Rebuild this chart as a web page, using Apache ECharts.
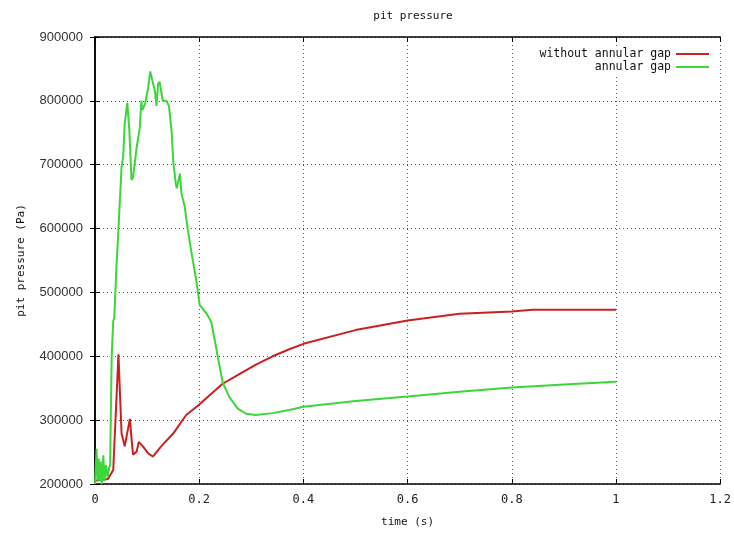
<!DOCTYPE html>
<html>
<head>
<meta charset="utf-8">
<script src="https://cdn.jsdelivr.net/npm/echarts@6/dist/echarts.min.js"></script>
<style>html,body{margin:0;padding:0;background:#fff;}#c{width:734px;height:533px;}</style>
</head>
<body>
<div id="c"></div>
<script>
var xTicks = [0, 0.2, 0.4, 0.6, 0.8, 1, 1.2];
var yTicks = [200000, 300000, 400000, 500000, 600000, 700000, 800000, 900000];

var noGapT = [0, 0.025, 0.03, 0.035, 0.038, 0.045, 0.048, 0.051, 0.057, 0.06, 0.067, 0.07, 0.073, 0.08, 0.084, 0.092, 0.102, 0.111, 0.127, 0.15, 0.175, 0.198, 0.22, 0.245, 0.277, 0.309, 0.341, 0.373, 0.4, 0.5, 0.6, 0.7, 0.8, 0.84, 1.0];
var noGapP = [205000, 208000, 215000, 222000, 225000, 403000, 340000, 279000, 259000, 260000, 302000, 272000, 246000, 251000, 266000, 259000, 248000, 243000, 259000, 279000, 308000, 323000, 339000, 357000, 372000, 387000, 400000, 411000, 419500, 441000, 456000, 466600, 470000, 473000, 473000];

var gapT = [0, 0.003, 0.005, 0.007, 0.009, 0.011, 0.013, 0.016, 0.018, 0.021, 0.024, 0.027, 0.029, 0.032, 0.035, 0.037, 0.041, 0.045, 0.051, 0.054, 0.057, 0.062, 0.066, 0.070, 0.073, 0.080, 0.086, 0.089, 0.091, 0.096, 0.102, 0.106, 0.108, 0.115, 0.118, 0.121, 0.124, 0.128, 0.13, 0.137, 0.142, 0.147, 0.15, 0.155, 0.157, 0.163, 0.166, 0.172, 0.178, 0.185, 0.194, 0.201, 0.214, 0.223, 0.229, 0.236, 0.245, 0.258, 0.274, 0.29, 0.309, 0.341, 0.373, 0.4, 0.5, 0.6, 0.7, 0.8, 0.9, 1.0];
var gapP = [200000, 255000, 205000, 240000, 205000, 235000, 200000, 245000, 205000, 230000, 210000, 225000, 230000, 400000, 455000, 460000, 537000, 599000, 697000, 712000, 764000, 797000, 753000, 676000, 680000, 727000, 758000, 800000, 786000, 795000, 820000, 846000, 843000, 815000, 792000, 826000, 830000, 810000, 800000, 800000, 792000, 753000, 707000, 671000, 663000, 686000, 655000, 635000, 599000, 563000, 521000, 480000, 467000, 454000, 429000, 398000, 359000, 336000, 318000, 310000, 308000, 311000, 316000, 321000, 330000, 337000, 344600, 351300, 356000, 360000];

function pairs(a, b) { return a.map(function (v, i) { return [v, b[i]]; }); }

var mono = 'DejaVu Sans Mono';
var chart = echarts.init(document.getElementById('c'));
var frame = { show: true, lineStyle: { color: '#000', width: 1.5 } };
var ticksIn = { show: true, inside: true, length: 5, lineStyle: { color: '#000', width: 1 } };
var grid = { show: true, lineStyle: { color: '#555', width: 1, type: [1, 3] } };
var legendText = { fontFamily: mono, fontSize: 11.5, color: '#111' };

chart.setOption({
  animation: false,
  backgroundColor: '#fff',
  title: {
    text: 'pit pressure', left: 408, top: 6, textAlign: 'center',
    textStyle: { fontFamily: mono, fontSize: 11, fontWeight: 'normal', color: '#111' }
  },
  legend: [
    {
      data: ['without annular gap'], right: 23, top: 46, align: 'right', icon: 'rect',
      itemWidth: 33, itemHeight: 2, padding: [2, 2, 2, 4], backgroundColor: '#fff',
      textStyle: legendText
    },
    {
      data: ['annular gap'], right: 23, top: 59, align: 'right', icon: 'rect',
      itemWidth: 33, itemHeight: 2, padding: [2, 2, 4, 4], backgroundColor: '#fff',
      textStyle: legendText
    }
  ],
  grid: { left: 95, right: 11, top: 37, bottom: 46, containLabel: false },
  xAxis: [
    {
      type: 'value', min: xTicks[0], max: xTicks[xTicks.length - 1], interval: 0.2,
      name: 'time (s)', nameLocation: 'middle', nameGap: 33,
      nameTextStyle: { fontFamily: mono, fontSize: 11, color: '#111' },
      axisLine: frame, axisTick: ticksIn, splitLine: grid,
      axisLabel: { fontFamily: mono, fontSize: 12, color: '#222', margin: 10 }
    },
    {
      type: 'value', position: 'top', min: xTicks[0], max: xTicks[xTicks.length - 1], interval: 0.2,
      axisLine: frame, axisTick: ticksIn, splitLine: { show: false }, axisLabel: { show: false }
    }
  ],
  yAxis: [
    {
      type: 'value', min: yTicks[0], max: yTicks[yTicks.length - 1], interval: 100000,
      name: 'pit pressure (Pa)', nameLocation: 'middle', nameGap: 68, nameRotate: 90,
      nameTextStyle: { fontFamily: mono, fontSize: 11, color: '#111' },
      axisLine: frame, axisTick: ticksIn, splitLine: grid,
      axisLabel: {
        fontFamily: 'Liberation Sans', fontSize: 13, color: '#333', margin: 12,
        formatter: function (v) { return String(v); }
      }
    },
    {
      type: 'value', position: 'right', min: yTicks[0], max: yTicks[yTicks.length - 1], interval: 100000,
      axisLine: frame, axisTick: ticksIn, splitLine: { show: false }, axisLabel: { show: false }
    }
  ],
  series: [
    {
      name: 'without annular gap', type: 'line', data: pairs(noGapT, noGapP),
      showSymbol: false, symbol: 'none', color: '#cc2020',
      lineStyle: { color: '#cc2020', width: 2 }
    },
    {
      name: 'annular gap', type: 'line', data: pairs(gapT, gapP),
      showSymbol: false, symbol: 'none', color: '#3cd63c',
      lineStyle: { color: '#3cd63c', width: 2 }
    }
  ]
});
</script>
</body>
</html>
